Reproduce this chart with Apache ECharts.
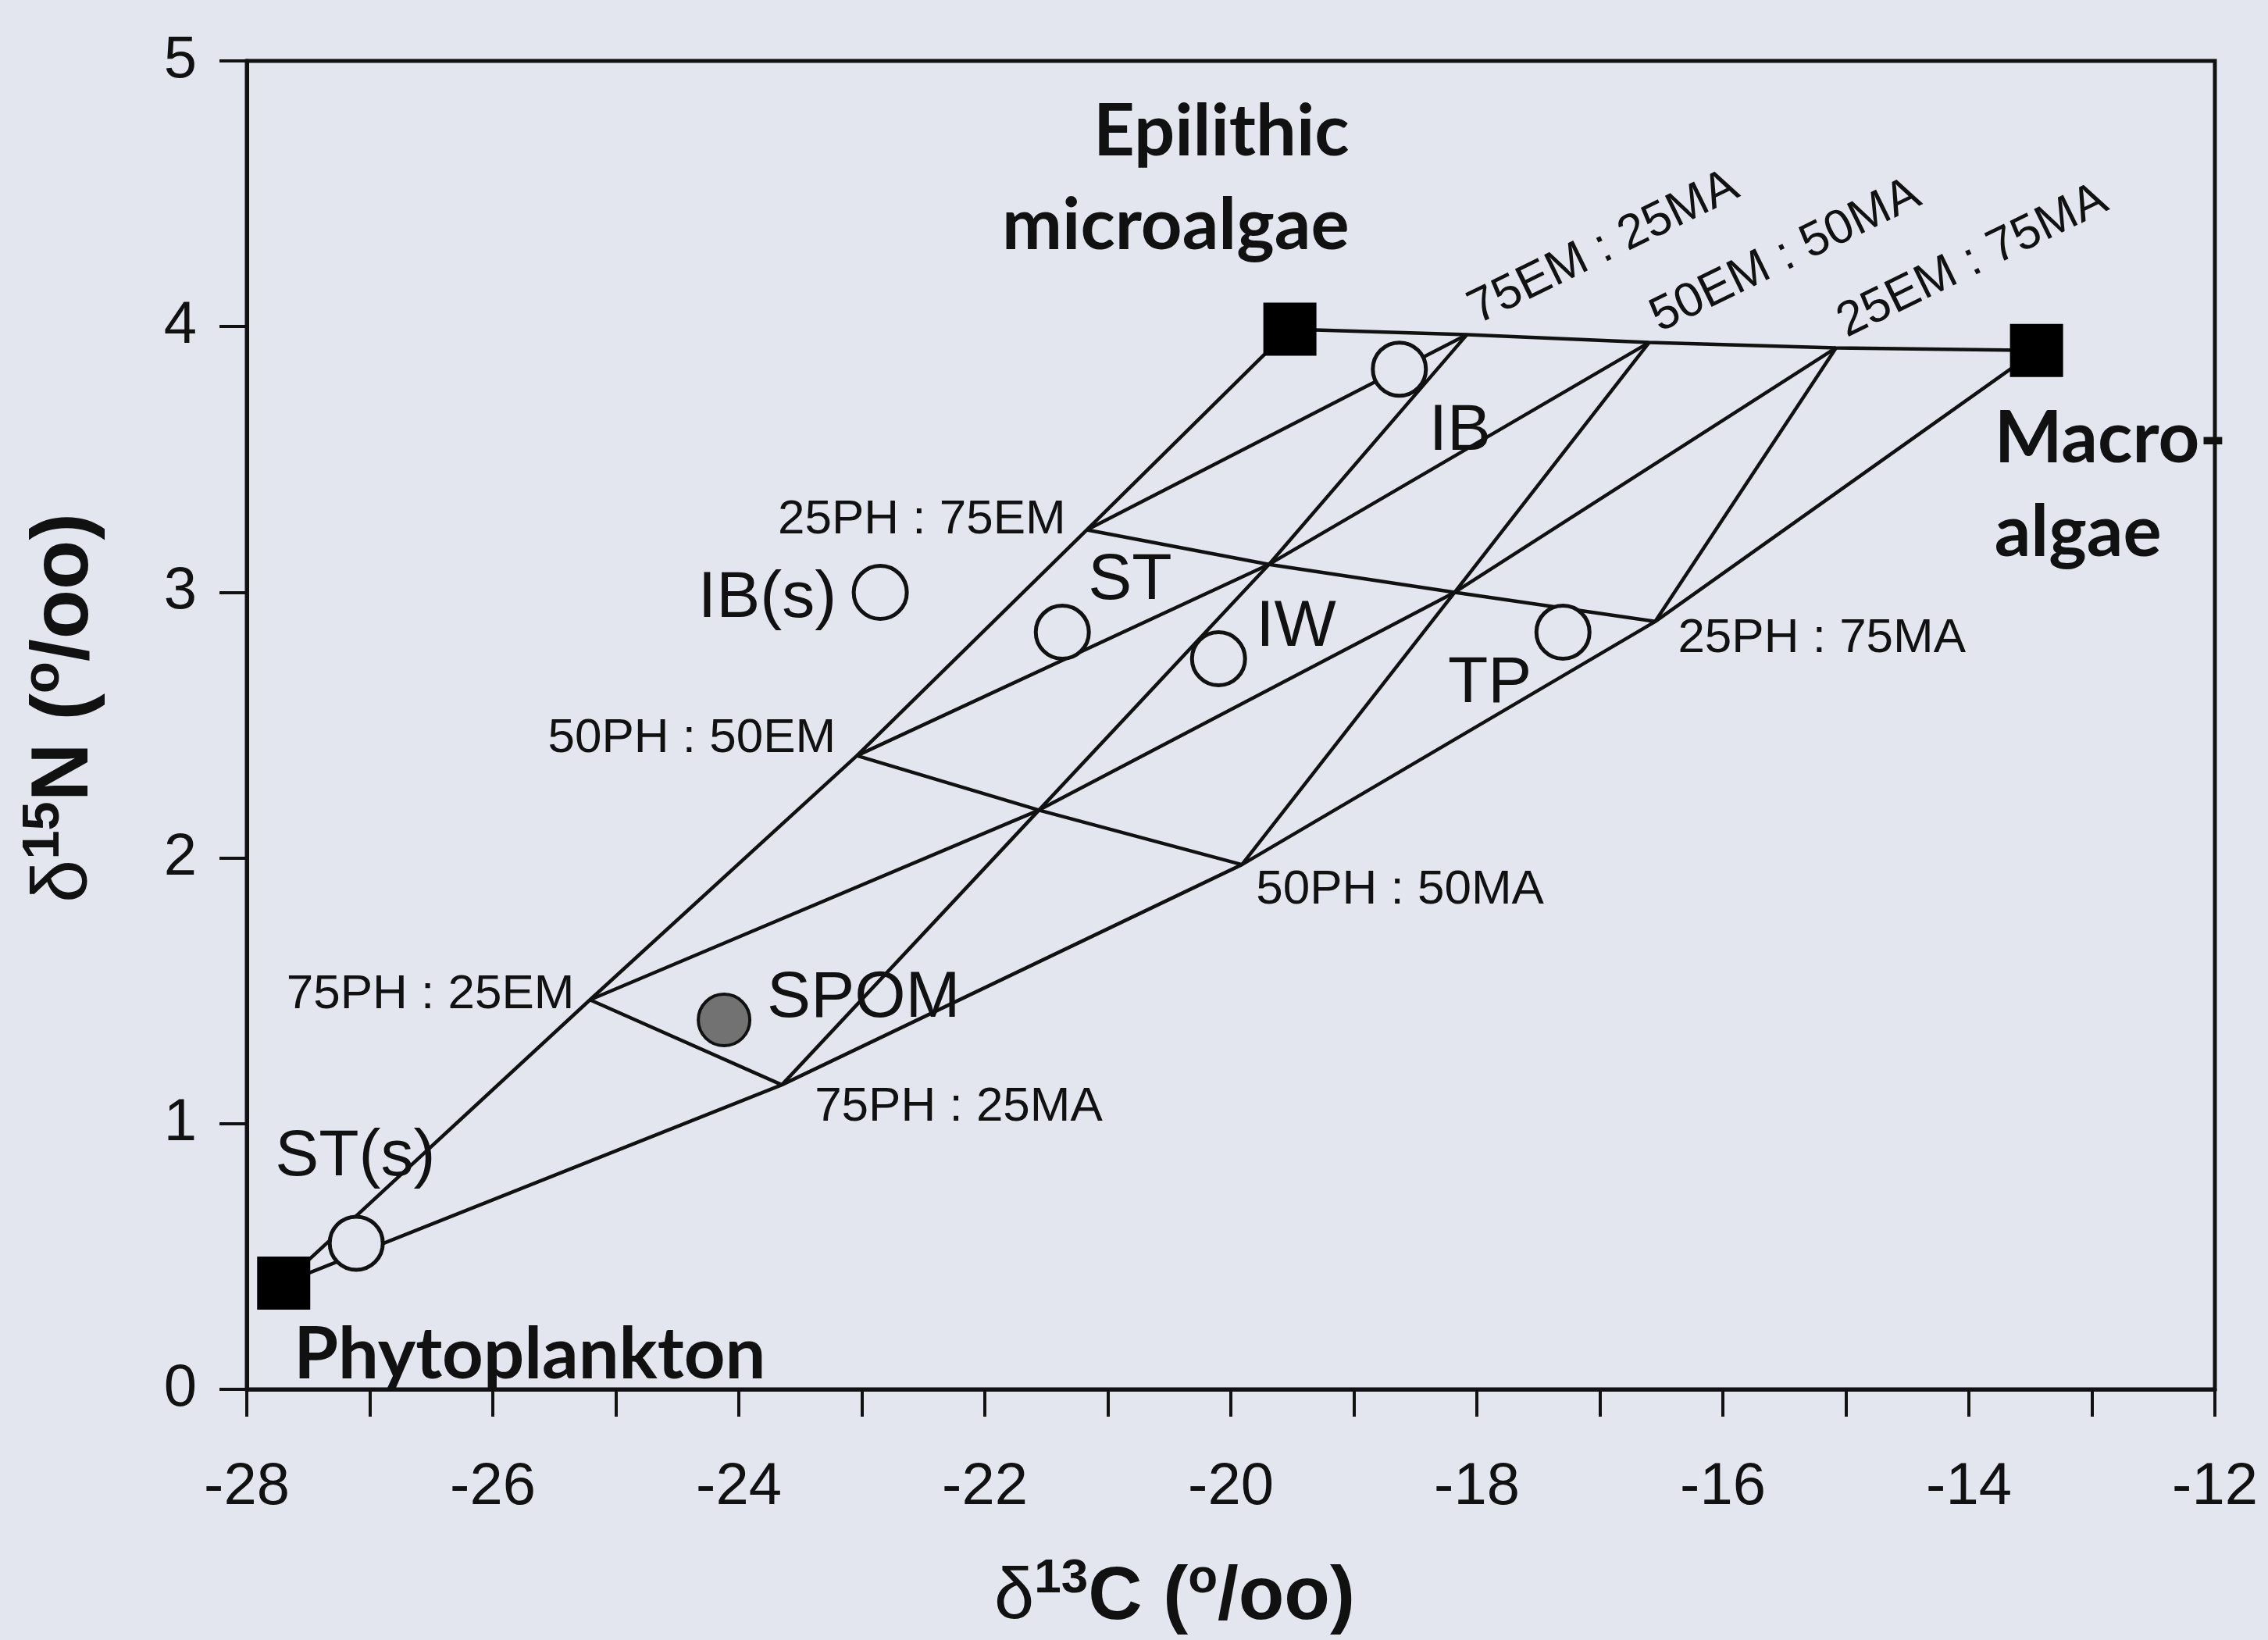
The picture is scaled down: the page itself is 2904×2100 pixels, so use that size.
<!DOCTYPE html>
<html>
<head>
<meta charset="utf-8">
<script src="https://cdn.jsdelivr.net/npm/echarts@6/dist/echarts.min.js"></script>
<style>
  html, body { margin: 0; padding: 0; background: #e3e5ef; }
  #chart { width: 2904px; height: 2100px; }
</style>
</head>
<body>
<div id="chart"></div>
<script>
// ---------------- DATA (δ13C, δ15N in ‰) ----------------
const endMemberNames  = ['Phytoplankton', 'Epilithic microalgae', 'Macroalgae'];
const endMemberLabels = ['Phytoplankton', 'Epilithic\nmicroalgae', 'Macro-\nalgae'];
const endMemberC = [-27.70, -19.52, -13.45];
const endMemberN = [0.40, 3.99, 3.91];

// mixing-grid nodes
const mixNodes = ['PH', '75PH:25EM', '50PH:50EM', '25PH:75EM', 'EM',
                  '75EM:25MA', '50EM:50MA', '25EM:75MA', 'MA',
                  '75PH:25MA', '50PH:50MA', '25PH:75MA',
                  '50PH:25EM:25MA', '25PH:50EM:25MA', '25PH:25EM:50MA'];
const mixNodeC = [-27.70, -25.21, -23.04, -21.17, -19.52,
                  -18.08, -16.60, -15.08, -13.45,
                  -23.65, -19.91, -16.55,
                  -21.56, -19.69, -18.18];
const mixNodeN = [0.40, 1.466, 2.385, 3.235, 3.99,
                  3.97, 3.94, 3.92, 3.91,
                  1.146, 1.975, 2.89,
                  2.18, 3.105, 3.00];

// mixing lines (sequences of nodes)
const mixLines = [
  ['PH', '75PH:25EM', '50PH:50EM', '25PH:75EM', 'EM'],
  ['EM', '75EM:25MA', '50EM:50MA', '25EM:75MA', 'MA'],
  ['PH', '75PH:25MA', '50PH:50MA', '25PH:75MA', 'MA'],
  ['75PH:25EM', '75PH:25MA'],
  ['50PH:50EM', '50PH:25EM:25MA', '50PH:50MA'],
  ['25PH:75EM', '25PH:50EM:25MA', '25PH:25EM:50MA', '25PH:75MA'],
  ['25PH:75EM', '75EM:25MA'],
  ['50PH:50EM', '25PH:50EM:25MA', '50EM:50MA'],
  ['75PH:25EM', '50PH:25EM:25MA', '25PH:25EM:50MA', '25EM:75MA'],
  ['75PH:25MA', '50PH:25EM:25MA', '25PH:50EM:25MA', '75EM:25MA'],
  ['50PH:50MA', '25PH:25EM:50MA', '50EM:50MA'],
  ['25PH:75MA', '25EM:75MA']
];
const labelledNodes = ['75PH:25EM', '50PH:50EM', '25PH:75EM', '75PH:25MA', '50PH:50MA',
                       '25PH:75MA', '75EM:25MA', '50EM:50MA', '25EM:75MA'];

// sampling sites (open circles)
const siteNames = ['IB(s)', 'ST', 'IW', 'TP', 'IB', 'ST(s)'];
const siteC = [-22.85, -21.37, -20.10, -17.30, -18.63, -27.11];
const siteN = [3.00, 2.85, 2.75, 2.85, 3.84, 0.55];

// SPOM (filled circle)
const spomNames = ['SPOM'];
const spomC = [-24.12];
const spomN = [1.39];

const xMin = -28, xMax = -12, xStep = 1, xLabelStep = 2;
const yMin = 0, yMax = 5, yStep = 1;

// ---------------- STYLE / LAYOUT ----------------
const INK = '#111111';
const BG = '#e3e5ef';
const RATIO_FONT = '"Liberation Sans", Arial, sans-serif';
const SITE_FONT = '"Liberation Sans", Arial, sans-serif';
const BOLD_FONT = 'Lato, "Open Sans", sans-serif';

const nodeLabelLayout = {
  '75PH:25EM': { align: 'right', offset: [-20, -6] },
  '50PH:50EM': { align: 'right', offset: [-27, -22] },
  '25PH:75EM': { align: 'right', offset: [-27, -13] },
  '75PH:25MA': { align: 'left',  offset: [42, 29] },
  '50PH:50MA': { align: 'left',  offset: [18, 33] },
  '25PH:75MA': { align: 'left',  offset: [29, 22] },
  '75EM:25MA': { align: 'left', verticalAlign: 'bottom', rotate: 26, offset: [18, 8] },
  '50EM:50MA': { align: 'left', verticalAlign: 'bottom', rotate: 26, offset: [18, 8] },
  '25EM:75MA': { align: 'left', verticalAlign: 'bottom', rotate: 26, offset: [18, 8] }
};
const siteLabelLayout = {
  'IB(s)': { align: 'right', offset: [-56, 8] },
  'ST':    { align: 'left',  offset: [33, -66] },
  'IW':    { align: 'left',  offset: [48, -40] },
  'TP':    { align: 'right', offset: [-40, 66] },
  'IB':    { align: 'left',  offset: [38, 80] },
  'ST(s)': { align: 'left',  offset: [-104, -110] },
  'SPOM':  { align: 'left',  offset: [55, -27] }
};
const endLabelLayout = [
  { align: 'left',  offset: [13, 92] },
  { align: 'right', offset: [76, -192] },
  { align: 'left',  offset: [-54, 174] }
];

// ---------------- BUILD ----------------
const idx = {};
mixNodes.forEach((k, i) => { idx[k] = i; });
const pt = k => [mixNodeC[idx[k]], mixNodeN[idx[k]]];

const series = [];
mixLines.forEach(path => {
  series.push({
    type: 'line', data: path.map(pt), symbol: 'none', silent: true, z: 2,
    lineStyle: { color: INK, width: 4.5, opacity: 1 }, animation: false
  });
});

series.push({
  type: 'scatter', z: 3, symbolSize: 1, silent: true,
  itemStyle: { color: 'transparent', opacity: 1 },
  data: labelledNodes.map(k => {
    const L = nodeLabelLayout[k];
    return {
      value: pt(k),
      label: {
        show: true, position: 'inside', formatter: k.replace(':', ' : '),
        align: L.align, verticalAlign: L.verticalAlign || 'middle',
        rotate: L.rotate || 0, offset: L.offset,
        fontFamily: RATIO_FONT, fontSize: 62, color: INK
      }
    };
  })
});

series.push({
  type: 'scatter', z: 6, symbol: 'circle', symbolSize: 68,
  itemStyle: { color: BG, borderColor: INK, borderWidth: 5, opacity: 1 },
  data: siteNames.map((n, i) => {
    const L = siteLabelLayout[n];
    return {
      value: [siteC[i], siteN[i]],
      label: { show: true, position: 'inside', formatter: n, align: L.align,
               verticalAlign: 'middle', offset: L.offset,
               fontFamily: SITE_FONT, fontSize: 84, color: INK }
    };
  })
});

series.push({
  type: 'scatter', z: 6, symbol: 'circle', symbolSize: 66,
  itemStyle: { color: '#727272', borderColor: INK, borderWidth: 4, opacity: 1 },
  data: spomNames.map((n, i) => {
    const L = siteLabelLayout[n];
    return {
      value: [spomC[i], spomN[i]],
      label: { show: true, position: 'inside', formatter: n, align: L.align,
               verticalAlign: 'middle', offset: L.offset,
               fontFamily: SITE_FONT, fontSize: 84, color: INK }
    };
  })
});

series.push({
  type: 'scatter', z: 7, symbol: 'rect', symbolSize: 68,
  itemStyle: { color: '#000000', opacity: 1 },
  data: endMemberNames.map((n, i) => {
    const L = endLabelLayout[i];
    return {
      name: n,
      value: [endMemberC[i], endMemberN[i]],
      label: { show: true, position: 'inside', formatter: endMemberLabels[i],
               align: L.align, verticalAlign: 'middle', offset: L.offset,
               fontFamily: BOLD_FONT, fontWeight: 'bold', fontSize: 92,
               lineHeight: 120, color: INK }
    };
  })
});

function titleRich(scale) {
  return {
    d: { fontFamily: RATIO_FONT, fontSize: 92 * scale, fontWeight: 'normal', color: INK, lineHeight: 112 * scale },
    s: { fontFamily: RATIO_FONT, fontSize: 62 * scale, fontWeight: 'bold', color: INK, lineHeight: 62 * scale, verticalAlign: 'top' },
    b: { fontFamily: RATIO_FONT, fontSize: 96 * scale, fontWeight: 'bold', color: INK, lineHeight: 112 * scale }
  };
}

const option = {
  backgroundColor: BG,
  animation: false,
  grid: { left: 316, right: 68, top: 78, bottom: 316, show: true,
          borderColor: INK, borderWidth: 5, backgroundColor: 'transparent' },
  xAxis: {
    type: 'value', min: xMin, max: xMax, interval: xStep,
    axisLine: { show: true, onZero: false, lineStyle: { color: INK, width: 5 } },
    axisTick: { show: true, length: 35, lineStyle: { color: INK, width: 4 } },
    axisLabel: { color: INK, fontFamily: RATIO_FONT, fontSize: 76, margin: 88,
                 formatter: v => (Math.round(v - xMin) % xLabelStep === 0 ? String(v) : '') },
    splitLine: { show: false },
    name: '{d|δ}{s|13}{b|C (}{s|o}{b|/oo)}',
    nameLocation: 'middle', nameGap: 212,
    nameTextStyle: { rich: titleRich(1), padding: [0, 144, 0, 0] }
  },
  yAxis: {
    type: 'value', min: yMin, max: yMax, interval: yStep,
    axisLine: { show: true, onZero: false, lineStyle: { color: INK, width: 5 } },
    axisTick: { show: true, length: 35, lineStyle: { color: INK, width: 4 } },
    axisLabel: { color: INK, fontFamily: RATIO_FONT, fontSize: 76, margin: 64 },
    splitLine: { show: false },
    name: '{d|δ}{s|15}{b|N (}{s|o}{b|/oo)}',
    nameLocation: 'middle', nameGap: 172, nameRotate: 90,
    nameTextStyle: { rich: titleRich(1.08), padding: [0, 0, 0, 44] }
  },
  series: series
};

const chart = echarts.init(document.getElementById('chart'));
chart.setOption(option);
</script>
</body>
</html>
